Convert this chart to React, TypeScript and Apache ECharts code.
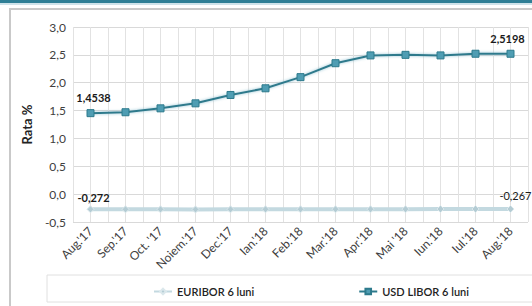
import React, { useEffect, useRef } from "react";
import * as echarts from "echarts";

const categories = ["Aug.'17", "Sep.'17", "Oct. '17", "Noiem.'17", "Dec.'17", "Ian.'18", "Feb.'18", "Mar.'18", "Apr.'18", "Mai '18", "Iun.'18", "Iul.'18", "Aug.'18"];
const usdLibor = [1.4538, 1.47, 1.54, 1.63, 1.78, 1.9, 2.1, 2.35, 2.49, 2.5, 2.49, 2.52, 2.5198];
const euribor = [-0.272, -0.273, -0.273, -0.274, -0.273, -0.272, -0.272, -0.271, -0.271, -0.27, -0.268, -0.267, -0.267];
const yTicks = { min: -0.5, max: 3, interval: 0.5 };

const fmt = (v: number, d: number) => v.toFixed(d).replace(".", ",");

export default function App() {
  const ref = useRef<HTMLDivElement>(null);
  useEffect(() => {
    if (!ref.current) return;
    const chart = echarts.init(ref.current, undefined, { renderer: "svg" });
    const last = categories.length - 1;
    const labelFor = (i: number, v: number, dec: number, bold: boolean, pos: any) =>
      i === 0 || i === last
        ? {
            show: true,
            formatter: fmt(v, dec),
            fontWeight: bold ? "bold" : "normal",
            fontSize: 11,
            color: "#1a1a1a",
            fontFamily: "Lato",
            ...pos,
          }
        : { show: false };
    chart.setOption({
      animation: false,
      textStyle: { fontFamily: "Lato" },
      graphic: [
        { type: "rect", shape: { x: 0, y: 0, width: 532, height: 3 }, style: { fill: "#2f7f96" } },
        { type: "rect", shape: { x: 0, y: 3, width: 532, height: 2 }, style: { fill: "#cfe3ea" } },
        { type: "rect", shape: { x: 10, y: 9, width: 540, height: 320 }, style: { fill: "none", stroke: "#c9c9c9", lineWidth: 2 } },
        { type: "rect", shape: { x: 47, y: 275, width: 500, height: 27 }, style: { fill: "none", stroke: "#e0e0e0", lineWidth: 1 } },
      ],
      grid: { left: 73, right: 4, top: 27, bottom: 84 },
      legend: {
        left: 148,
        top: 281,
        itemGap: 104,
        itemWidth: 18,
        itemHeight: 7,
        textStyle: { fontSize: 11, fontWeight: 600, color: "#222", fontFamily: "Lato" },
        data: ["EURIBOR 6 luni", "USD LIBOR 6 luni"],
      },
      xAxis: {
        type: "value",
        min: -0.5,
        max: categories.length - 0.5,
        interval: 0.5,
        axisLine: { show: false },
        axisTick: { show: false },
        splitLine: { show: true, lineStyle: { color: "#e2e2e2", width: 1 } },
        axisLabel: {
          rotate: 45,
          fontSize: 12,
          color: "#404040",
          margin: 7,
          showMinLabel: false,
          showMaxLabel: false,
          formatter: (v: number) => (Number.isInteger(v) && categories[v] ? categories[v] : ""),
        },
      },
      yAxis: {
        type: "value",
        min: yTicks.min,
        max: yTicks.max,
        interval: yTicks.interval,
        name: "Rata %",
        nameLocation: "middle",
        nameGap: 40,
        nameTextStyle: { fontWeight: "bold", fontSize: 13, color: "#222", fontFamily: "Lato" },
        axisLine: { show: false },
        axisTick: { show: false },
        splitLine: { lineStyle: { color: "#d9d9d9" } },
        axisLabel: { fontSize: 12, color: "#404040", margin: 7, formatter: (v: number) => fmt(v, 1) },
      },
      series: [
        {
          name: "EURIBOR 6 luni",
          type: "line",
          data: euribor.map((v, i) => ({
            value: [i, v],
            label: labelFor(
              i,
              v,
              3,
              i === 0,
              i === 0 ? { position: "top", offset: [3, 3] } : { position: "top", align: "right", offset: [21, 1] }
            ),
          })),
          symbol: "diamond",
          symbolSize: 7,
          lineStyle: { color: "#c3d9e0", width: 4 },
          itemStyle: { color: "#b4ccd4", borderColor: "#dbe8ec", borderWidth: 1 },
          z: 2,
        },
        {
          name: "USD LIBOR 6 luni",
          type: "line",
          data: usdLibor.map((v, i) => ({
            value: [i, v],
            label: labelFor(i, v, 4, true, i === 0 ? { position: "top", offset: [3, -1] } : { position: "top", offset: [-3, -1] }),
          })),
          symbol: "rect",
          symbolSize: 7,
          lineStyle: { color: "#2d7a8c", width: 2, shadowColor: "rgba(120,180,200,0.8)", shadowBlur: 3 },
          itemStyle: { color: "#4f9db3", borderColor: "#2d7a8c", borderWidth: 1 },
          z: 3,
        },
      ],
    });
    return () => chart.dispose();
  }, []);
  return <div ref={ref} style={{ width: 532, height: 306, position: "absolute", left: 0, top: 0 }} />;
}
